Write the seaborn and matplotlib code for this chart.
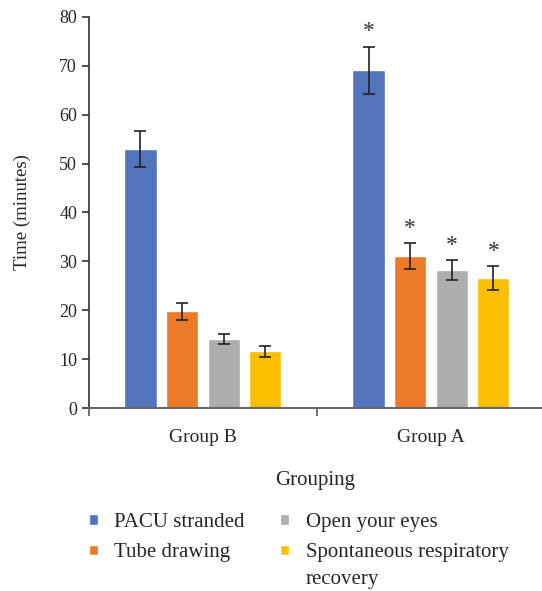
import pandas as pd
import numpy as np
import matplotlib.pyplot as plt
import seaborn as sns

sns.set_style("ticks")
plt.rcParams["font.family"] = ["Liberation Serif", "DejaVu Serif"]

groups = ["Group B", "Group A"]
series = ["PACU stranded", "Tube drawing", "Open your eyes", "Spontaneous respiratory recovery"]
group_b = [52.9, 19.8, 14.1, 11.6]
group_a = [69.1, 31.1, 28.2, 26.6]
err_b = [3.7, 1.7, 1.0, 1.1]
err_a = [4.8, 2.6, 2.1, 2.5]
significant_a = [True, True, True, True]
COLORS = ["#5274BD", "#ED7A26", "#AEAEAE", "#FAC000"]

df = pd.DataFrame({
    "Grouping": np.repeat(groups, len(series)),
    "Measure": series * len(groups),
    "Time": group_b + group_a,
    "err": err_b + err_a,
})

fig = plt.figure(figsize=(5.42, 5.91), dpi=100)
ax = fig.add_axes([0.164, 0.3096, 0.836, 0.662])

sns.barplot(data=df, x="Grouping", y="Time", hue="Measure", order=groups,
            hue_order=series, palette=COLORS, saturation=1, width=0.73, gap=0.23,
            errorbar=None, ax=ax, legend=True)

# error bars + significance marks
for cont, name in zip(ax.containers, series):
    for bar, g in zip(cont, groups):
        row = df[(df.Grouping == g) & (df.Measure == name)].iloc[0]
        cx = bar.get_x() + bar.get_width() / 2
        ax.errorbar(cx, row.Time, yerr=row.err, color="#222222", lw=1.2,
                    capsize=4.5, capthick=1.2)
        if g == "Group A" and significant_a[series.index(name)]:
            ax.annotate("*", (cx, row.Time + row.err), xytext=(0, 3),
                        textcoords="offset points", ha="center", va="bottom",
                        fontsize=17, color="#333333")

ax.set_ylim(0, 80)
ax.set_yticks(range(0, 81, 10))
ax.set_xlim(-0.5, 1.487)
ax.set_xticks([-0.5, 0.5], minor=True)
ax.tick_params(axis="x", which="major", length=0, labelsize=14, pad=15)
ax.tick_params(axis="x", which="minor", length=6, color="#555555", width=1.2)
ax.tick_params(axis="y", length=5, width=1.2, color="#333333", labelsize=13)
ax.set_xlabel("Grouping", fontsize=15, labelpad=18)
ax.set_ylabel("Time (minutes)", fontsize=13.5, labelpad=20)

sns.despine(ax=ax, right=True, top=True)
ax.spines["left"].set_color("#333333")
ax.spines["left"].set_linewidth(1.2)
ax.spines["bottom"].set_color("#666666")
ax.spines["bottom"].set_linewidth(1.5)

# legend: last label wraps, with the marker on its first line
labels = series[:3] + ["Spontaneous respiratory"]
handles, _ = ax.get_legend_handles_labels()
leg = ax.legend(handles, labels, loc="upper left", bbox_to_anchor=(0.0, -0.268),
                ncol=2, frameon=False, fontsize=15, handlelength=0.42,
                handleheight=0.42, handletextpad=0.8, columnspacing=1.7,
                labelspacing=0.55, borderpad=0, borderaxespad=0)
fig.canvas.draw()
last = leg.get_texts()[-1]
bb = last.get_window_extent().transformed(fig.transFigure.inverted())
fig.text(bb.x0, bb.y0 - 0.013, "recovery", fontsize=15, va="top", ha="left")

fig.savefig("out.png", dpi=100)
